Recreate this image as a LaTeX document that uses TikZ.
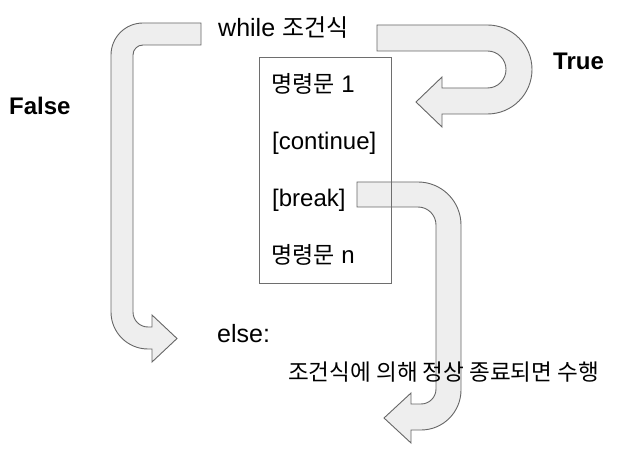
\documentclass[tikz,border=0pt]{standalone}
\usepackage{fontspec}
\setmainfont{Liberation Sans}
\newfontfamily\kr[Scale=0.96]{Noto Sans CJK KR}
\definecolor{arrowfill}{RGB}{238,238,238}
\definecolor{arrowline}{RGB}{102,102,102}
\definecolor{boxline}{RGB}{110,110,110}

\begin{document}
\begin{tikzpicture}[x=1pt, y=1pt,
  blockarrow/.style={draw=arrowline, fill=arrowfill, line width=0.9pt, line join=miter},
  codetxt/.style={anchor=base west, inner sep=0pt, font=\fontsize{24}{28}\selectfont},
  headtxt/.style={anchor=base west, inner sep=0pt, font=\fontsize{25}{30}\selectfont},
  branchtxt/.style={anchor=base west, inner sep=0pt, font=\fontsize{24}{28}\selectfont\bfseries}]
  \useasboundingbox (0,0) rectangle (640,-462);

  %--- block arrows ---
  % False: back from while to else
  \draw[blockarrow] (201,-23) -- (143,-23) arc[start angle=90, end angle=180, radius=32]
    -- (111,-312) arc[start angle=180, end angle=270, radius=37]
    -- (152,-349) -- (152,-362) -- (177,-338.5) -- (152,-315) -- (152,-327) -- (148,-327)
    arc[start angle=270, end angle=180, radius=15]
    -- (133,-55) arc[start angle=180, end angle=90, radius=10] -- (201,-45) -- cycle;

  % True: loop into the body
  \draw[blockarrow] (377,-25) -- (487.5,-25) arc[start angle=90, end angle=-90, radius=44.5]
    -- (442,-114) -- (442,-127) -- (416,-102) -- (442,-77) -- (442,-88) -- (487.5,-88)
    arc[start angle=-90, end angle=90, radius=18.5] -- (377,-51) -- cycle;

  % break: out of the loop
  \draw[blockarrow] (357,-182) -- (418,-182) arc[start angle=90, end angle=0, radius=43]
    -- (461,-390) arc[start angle=0, end angle=-90, radius=40]
    -- (411,-430) -- (411,-443) -- (384,-418) -- (411,-393) -- (411,-404) -- (421,-404)
    arc[start angle=-90, end angle=0, radius=15]
    -- (436,-225) arc[start angle=0, end angle=90, radius=18] -- (357,-207) -- cycle;

  %--- loop body ---
  \node[draw=boxline, line width=0.9pt, minimum width=132pt, minimum height=226pt, inner sep=0pt] (body) at (325,-170) {};

  \node[headtxt] (cond) at (218,-37) {while {\kr 조건식}};
  \node[codetxt] (stmtone) at (271,-93) {{\kr 명령문} 1};
  \node[codetxt] (cont) at (272,-150) {[continue]};
  \node[codetxt] (brk) at (272,-207) {[break]};
  \node[codetxt] (stmtn) at (271,-264) {{\kr 명령문} n};

  %--- else part ---
  \node[headtxt] (elsekw) at (217,-343) {else:};
  \node[anchor=base west, inner sep=0pt, font=\kr\fontsize{23.5}{28}\selectfont] (elsenote) at (288,-380) {조건식에 의해 정상 종료되면 수행};

  % branch labels
  \node[branchtxt] (truelbl) at (553,-70) {True};
  \node[branchtxt] (falselbl) at (9,-115) {False};
\end{tikzpicture}
\end{document}
